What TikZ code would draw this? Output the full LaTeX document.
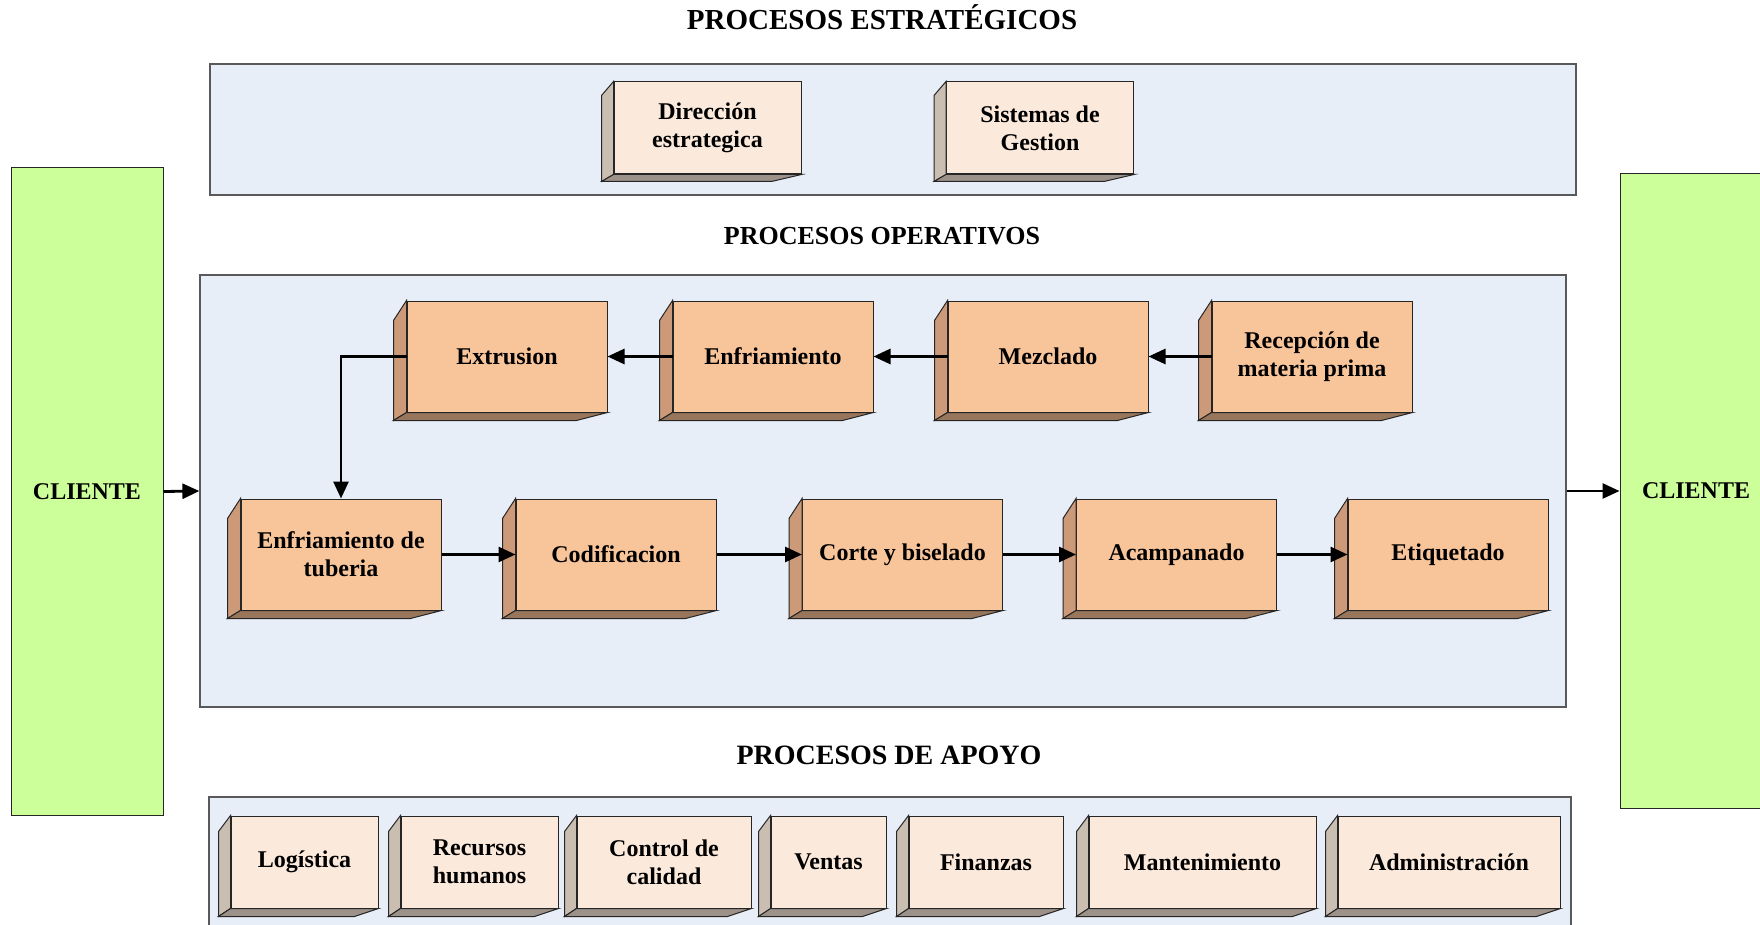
\documentclass[tikz,border=0pt]{standalone}
\usepackage{fontspec}
\setmainfont{Liberation Serif}
\usetikzlibrary{arrows.meta,calc}

\definecolor{panelblue}{RGB}{232,238,247}
\definecolor{clientgreen}{RGB}{204,255,153}
\definecolor{opfront}{RGB}{248,196,154}
\definecolor{opside}{RGB}{204,154,120}
\definecolor{opbottom}{RGB}{152,118,92}
\definecolor{palefront}{RGB}{251,233,220}
\definecolor{paleside}{RGB}{202,189,178}
\definecolor{palebottom}{RGB}{156,146,138}

\tikzset{
  edge/.style={draw=black!85, line width=0.5pt},
  panel/.style={draw=black!65, line width=0.6pt, fill=panelblue, inner sep=0pt},
  title/.style={font=\fontsize{14.5}{16}\selectfont\bfseries, inner sep=0pt},
  boxtext/.style={font=\fontsize{12}{14}\selectfont\bfseries, align=center, inner sep=0pt},
  opbox/.style={boxtext, edge, fill=opfront, minimum width=100pt, minimum height=55.5pt},
  estbox/.style={boxtext, edge, fill=palefront, minimum width=93.5pt, minimum height=46pt},
  apobox/.style={boxtext, edge, fill=palefront, minimum height=46pt},
  client/.style={boxtext, edge, fill=clientgreen, minimum width=76pt},
  flow/.style={-{Triangle[length=8.5pt,width=7.5pt]}, line width=1.4pt}
}

% left and bottom faces of a 3-D box: name, colours, dx, top drop, bottom drop, slant
\newcommand{\boxdepth}[7]{%
  \draw[edge, fill=#2] (#1.north west) -- ++(-#4,#5) -- ($(#1.south west)+(-#4,#6)$) -- (#1.south west) -- cycle;
  \draw[edge, fill=#3] (#1.south west) -- ++(-#4,#6) -- ($(#1.south east)+(-#7,#6)$) -- (#1.south east) -- cycle;
}

\begin{document}
\begin{tikzpicture}[x=0.5pt,y=-0.5pt]
\useasboundingbox (0,0) rectangle (1760,925);
\clip (0,0) rectangle (1760,925);

% titles
\node[title, anchor=base] (tEst) at (882,30) {PROCESOS ESTRATÉGICOS};
\node[title, anchor=base, font=\fontsize{13}{15}\selectfont\bfseries] (tOp) at (882,244) {PROCESOS OPERATIVOS};
\node[title, anchor=base, font=\fontsize{14}{16}\selectfont\bfseries] (tApo) at (889,764) {PROCESOS DE APOYO};

% panels
\node[panel, minimum width=683pt, minimum height=65.5pt] (estPanel) at (893,129.5) {};
\node[panel, minimum width=683pt, minimum height=216pt] (opPanel) at (883,491) {};
\node[panel, minimum width=681pt, minimum height=74pt] (apoPanel) at (890,871) {};

% clients
\node[client, minimum height=323.5pt] (clienteIn) at (87,491.5) {CLIENTE};
\node[client, minimum height=317pt] (clienteOut) at (1696,491) {CLIENTE};

% strategic processes
\node[estbox] (dirEst) at (707.5,128) {Dirección\\estrategica};
\node[estbox] (sisGes) at (1040,128) {Sistemas de\\Gestion};
\foreach \n in {dirEst,sisGes} {\boxdepth{\n}{paleside}{palebottom}{12}{14}{7}{30}}

% operative processes
\node[opbox] (extrusion) at (507,356.5) {Extrusion};
\node[opbox] (enfriamiento) at (773,356.5) {Enfriamiento};
\node[opbox] (mezclado) at (1048,356.5) {Mezclado};
\node[opbox] (recepcion) at (1312,356.5) {Recepción de\\materia prima};
\node[opbox] (enfTub) at (341,554.5) {Enfriamiento de\\tuberia};
\node[opbox] (codif) at (616,554.5) {Codificacion};
\node[opbox] (corte) at (902.5,554.5) {Corte y biselado};
\node[opbox] (acampanado) at (1176.5,554.5) {Acampanado};
\node[opbox] (etiquetado) at (1448,554.5) {Etiquetado};
\foreach \n in {extrusion,enfriamiento,mezclado,recepcion,enfTub,codif,corte,acampanado,etiquetado}
  {\boxdepth{\n}{opside}{opbottom}{13}{20}{8}{31}}

% support processes
\node[apobox, minimum width=73.5pt] (logistica) at (304.5,862) {Logística};
\node[apobox, minimum width=78.5pt] (rrhh) at (479.5,862) {Recursos\\humanos};
\node[apobox, minimum width=87pt] (calidad) at (664,862) {Control de\\calidad};
\node[apobox, minimum width=57.5pt] (ventas) at (828.5,862) {Ventas};
\node[apobox, minimum width=77pt] (finanzas) at (986,862) {Finanzas};
\node[apobox, minimum width=113.5pt] (mantenim) at (1202.5,862) {Mantenimiento};
\node[apobox, minimum width=111pt] (admin) at (1449,862) {Administración};
\foreach \n in {logistica,rrhh,calidad,ventas,finanzas,mantenim,admin}
  {\boxdepth{\n}{paleside}{palebottom}{12}{16}{8}{24}}

% flows
\draw[flow] (recepcion.west) -- (mezclado.east);
\draw[flow] (mezclado.west) -- (enfriamiento.east);
\draw[flow] (enfriamiento.west) -- (extrusion.east);
\draw[flow] (extrusion.west) -| (enfTub.north);
\draw[flow] (enfTub.east) -- (codif.west);
\draw[flow] (codif.east) -- (corte.west);
\draw[flow] (corte.east) -- (acampanado.west);
\draw[flow] (acampanado.east) -- (etiquetado.west);
\draw[flow] (clienteIn.east) -- (opPanel.west);
\draw[flow] (opPanel.east) -- (clienteOut.west);
\end{tikzpicture}
\end{document}
